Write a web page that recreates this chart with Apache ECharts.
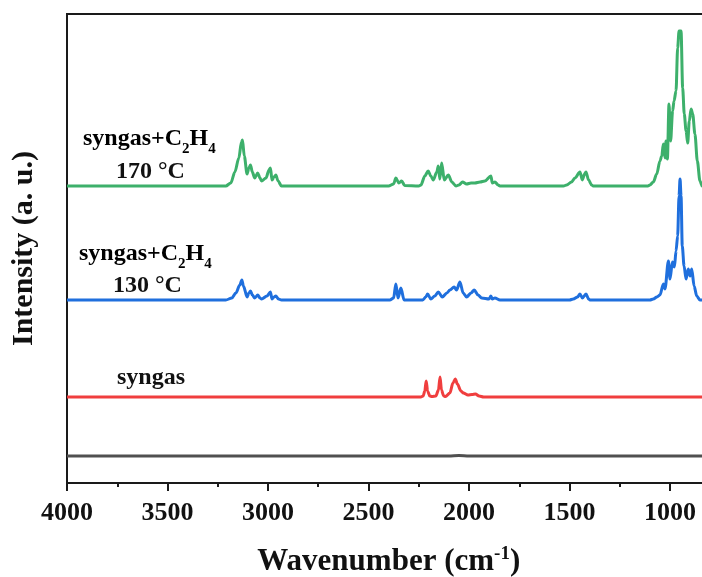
<!DOCTYPE html>
<html>
<head>
<meta charset="utf-8">
<script src="https://cdn.jsdelivr.net/npm/echarts@6/dist/echarts.min.js"></script>
<style>html,body{margin:0;padding:0;background:#fff}#c{width:702px;height:577px}</style>
</head>
<body>
<div id="c"></div>
<script>
// x tick range (wavenumber, cm-1)
const xTicks = [4000, 3500, 3000, 2500, 2000, 1500, 1000];
// vertical offsets of each stacked spectrum (a. u.)
const offsets = { blank: 27, syngas: 86, c2h4_130: 183, c2h4_170: 297 };

// [wavenumber, intensity above own baseline]
const blankSpec = [[4000,0],[2100,0],[2050,0.4],[2000,0],[800,0]];
const syngasSpec = [[4000,0],[2240,0],[2228,1],[2220,6],[2213,16],[2206,6],[2195,1],[2184,0.5],[2165,1],[2152,7],[2144,20],[2137,7],[2126,1],[2117,0.5],[2095,4],[2080,14],[2068,18],[2058,13],[2040,6],[2028,4],[2005,2],[1985,2.5],[1968,3],[1950,1],[1927,0],[800,0]];
const spec130 = [[4000,0],[3210,0],[3180,2],[3160,7],[3140,15],[3130,20],[3122,14],[3104,3],[3095,7],[3087,9],[3078,5],[3066,2],[3051,5],[3040,2],[3032,1],[3005,4],[2988,8],[2980,1],[2970,3],[2961,4],[2948,1],[2933,0],
 [2394,0],[2375,2],[2364,16],[2353,2],[2339,12],[2323,0],
 [2230,0],[2215,3],[2206,6],[2190,1],[2170,4],[2153,8],[2133,3],[2110,7],[2095,10],[2074,13],[2062,10],[2045,18],[2029,7],[2012,3],[1990,7],[1974,10],[1955,5],[1937,2],[1900,1],[1891,4],[1884,1],[1871,2],[1846,0],
 [1500,0],[1481,1],[1460,3],[1448,6],[1436,2],[1418,6],[1405,1],[1398,0],
 [1100,0],[1083,1],[1065,3],[1050,5],[1033,16],[1025,11],[1008,39],[1000,21],[988,38],[978,33],[970,49],[962,64],[955,104],[950,121],[945,104],[939,54],[930,34],[920,21],[909,31],[900,24],[892,31],[880,14],[867,4],[851,0],[800,0]];
const spec170 = [[4000,0],[3210,0],[3185,3],[3165,14],[3145,28],[3132,44],[3127,46],[3118,30],[3104,12],[3095,18],[3087,21],[3078,14],[3066,8],[3051,13],[3040,8],[3032,5],[3010,8],[2995,16],[2988,18],[2980,6],[2970,9],[2961,11],[2950,5],[2933,0],
 [2400,0],[2375,2],[2364,8],[2349,3],[2335,5],[2320,0.5],[2250,0],[2239,1],[2220,10],[2203,15],[2190,10],[2178,6],[2160,14],[2153,20],[2145,7],[2136,23],[2123,6],[2103,11],[2085,4],[2065,0],[2050,1],[2032,4],[2012,2],[1990,3],[1971,3],[1945,4],[1921,5],[1891,10],[1884,3],[1871,4],[1855,1],[1846,0],
 [1530,0],[1514,1],[1490,4],[1473,8],[1448,14],[1436,6],[1425,12],[1418,14],[1405,6],[1390,1],[1382,0],
 [1110,0],[1100,1],[1083,4],[1066,12],[1050,25],[1041,30],[1033,42],[1025,28],[1020,45],[1013,27],[1005,82],[997,45],[987,75],[980,85],[970,95],[962,138],[955,155],[945,155],[937,98],[929,72],[920,55],[912,43],[904,65],[895,77],[887,72],[876,52],[864,25],[851,5],[840,0],[800,0]];

const seriesNames = ['blank', 'syngas', 'syngas+C2H4 130 °C', 'syngas+C2H4 170 °C'];
const colors = ['#505050', '#f03e3e', '#1f6fdd', '#3db06b'];

const FONT = '"Liberation Serif", "Times New Roman", serif';
const shift = (arr, off) => arr.map(p => [p[0], p[1] + off]);

const chart = echarts.init(document.getElementById('c'), null, { renderer: 'canvas' });
const mkSeries = (name, data, color) => ({
  name, type: 'line', data, showSymbol: false, symbol: 'none',
  smooth: 0.3, smoothMonotone: 'x',
  lineStyle: { color, width: 3 }, itemStyle: { color }, animation: false
});

const labelRich = {
  m: { fontFamily: FONT, fontWeight: 'bold', fontSize: 24, color: '#111', lineHeight: 30, verticalAlign: 'bottom' },
  s: { fontFamily: FONT, fontWeight: 'bold', fontSize: 15, color: '#111', lineHeight: 30, verticalAlign: 'bottom', padding: [0, 0, -6, 0] }
};

chart.setOption({
  animation: false,
  grid: { left: 67, top: 14, right: -68.5, bottom: 94, show: true, borderColor: '#1a1a1a', borderWidth: 2, containLabel: false, outerBoundsMode: 'none' },
  xAxis: {
    type: 'value', inverse: true, min: 500, max: xTicks[0], interval: 500,
    axisLine: { show: true, onZero: false, lineStyle: { color: '#1a1a1a', width: 2 } },
    axisTick: { show: true, inside: false, length: 8, lineStyle: { color: '#1a1a1a', width: 2 } },
    minorTick: { show: true, splitNumber: 2, length: 4, lineStyle: { color: '#1a1a1a', width: 2 } },
    splitLine: { show: false },
    axisLabel: { fontFamily: FONT, fontWeight: 'bold', fontSize: 26, color: '#111', margin: 17, hideOverlap: false,
      formatter: v => xTicks.indexOf(v) >= 0 ? String(v) : '' },
    name: 'Wavenumber (cm{sup|-1})', nameLocation: 'middle', nameGap: 62,
    nameTextStyle: { fontFamily: FONT, fontWeight: 'bold', fontSize: 31, color: '#111', padding: [0, 60, 0, 0],
      rich: { sup: { fontFamily: FONT, fontWeight: 'bold', fontSize: 19, color: '#111', verticalAlign: 'top', padding: [0, 0, 14, 0] } } }
  },
  yAxis: {
    type: 'value', min: 0, max: 469,
    axisLine: { show: true, lineStyle: { color: '#1a1a1a', width: 2 } },
    axisTick: { show: false }, axisLabel: { show: false }, splitLine: { show: false },
    name: 'Intensity (a. u.)', nameLocation: 'middle', nameGap: 28,
    nameTextStyle: { fontFamily: FONT, fontWeight: 'bold', fontSize: 30, color: '#111' }
  },
  series: [
    mkSeries(seriesNames[0], shift(blankSpec, offsets.blank), colors[0]),
    mkSeries(seriesNames[1], shift(syngasSpec, offsets.syngas), colors[1]),
    mkSeries(seriesNames[2], shift(spec130, offsets.c2h4_130), colors[2]),
    mkSeries(seriesNames[3], shift(spec170, offsets.c2h4_170), colors[3])
  ],
  graphic: [
    { type: 'text', x: 83, y: 121, style: { text: '{m|syngas+C}{s|2}{m|H}{s|4}', rich: labelRich } },
    { type: 'text', x: 116, y: 160, style: { text: '170 °C', font: 'bold 24px ' + FONT, fill: '#111' } },
    { type: 'text', x: 79, y: 236, style: { text: '{m|syngas+C}{s|2}{m|H}{s|4}', rich: labelRich } },
    { type: 'text', x: 113, y: 274, style: { text: '130 °C', font: 'bold 24px ' + FONT, fill: '#111' } },
    { type: 'text', x: 117, y: 366, style: { text: 'syngas', font: 'bold 24px ' + FONT, fill: '#111' } }
  ]
});
</script>
</body>
</html>
